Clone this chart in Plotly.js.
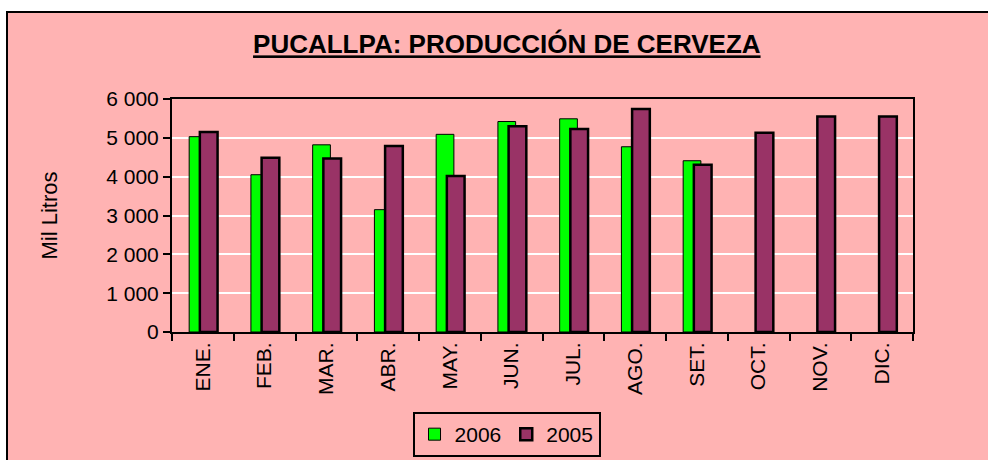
<!DOCTYPE html>
<html>
<head>
<meta charset="utf-8">
<script src="https://cdn.plot.ly/plotly-3.0.1.min.js"></script>
<style>
  html, body { margin: 0; padding: 0; width: 988px; height: 460px; overflow: hidden; background: #ffffff; }
  #frame { position: absolute; left: 6px; top: 11px; width: 1000px; height: 500px; border-left: 2px solid #000; border-top: 2px solid #000; background: #FFB3B3; }
  #chart { position: absolute; left: 8px; top: 13px; width: 980px; height: 447px; }
</style>
</head>
<body>
<div id="frame"></div>
<div id="chart"></div>
<script>
const months = ["ENE.", "FEB.", "MAR.", "ABR.", "MAY.", "JUN.", "JUL.", "AGO.", "SET.", "OCT.", "NOV.", "DIC."];
const values2006 = [5030, 4050, 4820, 3150, 5090, 5420, 5490, 4770, 4410, null, null, null];
const values2005 = [5150, 4490, 4470, 4790, 4020, 5300, 5230, 5740, 4310, 5130, 5550, 5550];
const yTicks = [0, 1000, 2000, 3000, 4000, 5000, 6000];

const FONT = "Arial, 'Liberation Sans', sans-serif";
const PINK = "#FFB3B3";

const traces = [
  {
    type: "bar", name: "2006", x: months, y: values2006,
    offset: -0.222, width: 0.287,
    marker: { color: "#00FF00", line: { color: "#000000", width: 1 } },
    hoverinfo: "x+y+name"
  },
  {
    type: "bar", name: "2005", x: months, y: values2005,
    offset: -0.049, width: 0.287,
    marker: { color: "#993366", line: { color: "#000000", width: 2.5 } },
    hoverinfo: "x+y+name"
  }
];

const layout = {
  width: 980, height: 447,
  paper_bgcolor: PINK, plot_bgcolor: PINK,
  separators: ", ",
  margin: { l: 164, r: 75, t: 86, b: 128 },
  barmode: "overlay",
  font: { family: FONT, color: "#000000" },
  title: {
    text: "<b><u>PUCALLPA: PRODUCCIÓN DE CERVEZA</u></b>",
    font: { family: FONT, size: 26, color: "#000000" },
    xref: "container", yref: "container",
    x: 0.509, xanchor: "center", y: 0.93, yanchor: "middle"
  },
  xaxis: {
    type: "category",
    tickangle: -90,
    tickson: "boundaries",
    ticks: "outside", ticklen: 7, tickwidth: 2, tickcolor: "#000",
    showline: true, linecolor: "#000", linewidth: 2, mirror: true,
    showgrid: false,
    tickfont: { family: FONT, size: 21, color: "#000" },
    fixedrange: true
  },
  yaxis: {
    range: [0, 6000],
    tickvals: yTicks,
    separatethousands: true,
    ticks: "outside", ticklen: 7, tickwidth: 2, tickcolor: "#000",
    showline: true, linecolor: "#000", linewidth: 2, mirror: true,
    showgrid: true, gridcolor: "#FFFFFF", gridwidth: 2,
    zeroline: false,
    tickfont: { family: FONT, size: 21, color: "#000" },
    title: { text: "Mil Litros", font: { family: FONT, size: 22, color: "#000" }, standoff: 43 },
    fixedrange: true
  },
  showlegend: true,
  legend: {
    orientation: "h",
    xref: "container", yref: "container",
    x: 0.5087, xanchor: "center", y: 0.057, yanchor: "middle",
    bgcolor: PINK, bordercolor: "#000", borderwidth: 2,
    font: { family: FONT, size: 21, color: "#000" },
    itemwidth: 30, tracegroupgap: 0
  }
};

Plotly.newPlot("chart", traces, layout, { displayModeBar: false, staticPlot: false });
</script>
</body>
</html>
